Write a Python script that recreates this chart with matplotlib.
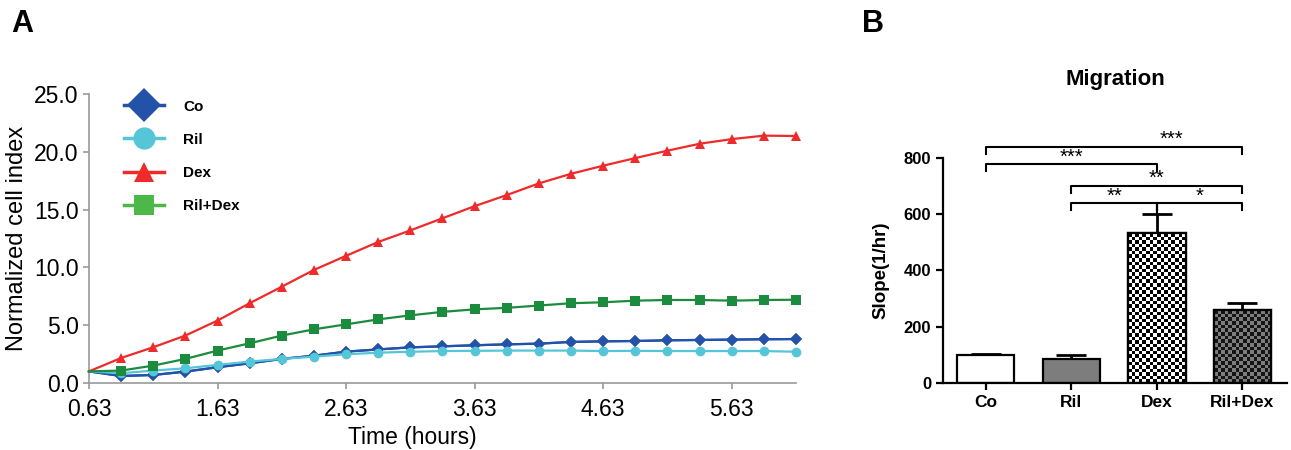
import numpy as np
import matplotlib
matplotlib.use("Agg")
import matplotlib.pyplot as plt
from matplotlib.lines import Line2D
from matplotlib.colors import ListedColormap

plt.rcParams['font.family'] = ['Liberation Sans', 'DejaVu Sans']

# ---------------- Data: panel A ----------------
time_h = [0.63, 0.88, 1.13, 1.38, 1.63, 1.88, 2.13, 2.38, 2.63, 2.88, 3.13, 3.38,
          3.63, 3.88, 4.13, 4.38, 4.63, 4.88, 5.13, 5.38, 5.63, 5.88, 6.13]
co = [1.0, 0.6, 0.69, 0.98, 1.36, 1.7, 2.08, 2.36, 2.71, 2.9, 3.08, 3.17,
      3.26, 3.34, 3.4, 3.55, 3.6, 3.63, 3.69, 3.72, 3.75, 3.78, 3.8]
ril = [1.0, 0.84, 1.07, 1.27, 1.56, 1.85, 2.08, 2.28, 2.48, 2.62, 2.7, 2.76,
       2.78, 2.8, 2.8, 2.8, 2.76, 2.78, 2.76, 2.76, 2.76, 2.76, 2.7]
dex = [1.0, 2.16, 3.09, 4.1, 5.4, 6.9, 8.33, 9.78, 11.0, 12.2, 13.2, 14.25,
       15.3, 16.26, 17.27, 18.1, 18.8, 19.46, 20.1, 20.7, 21.1, 21.4, 21.37]
ril_dex = [1.0, 1.07, 1.5, 2.08, 2.8, 3.43, 4.1, 4.64, 5.07, 5.5, 5.85, 6.15,
           6.37, 6.5, 6.7, 6.9, 6.98, 7.12, 7.18, 7.18, 7.12, 7.18, 7.2]
series_labels = ['Co', 'Ril', 'Dex', 'Ril+Dex']
x_ticks = [0.63, 1.63, 2.63, 3.63, 4.63, 5.63]
y_ticks_a = [0.0, 5.0, 10.0, 15.0, 20.0, 25.0]

# ---------------- Data: panel B ----------------
groups = ['Co', 'Ril', 'Dex', 'Ril+Dex']
slope = [100, 85, 532, 258]
slope_err = [4, 15, 68, 26]
y_ticks_b = [0, 200, 400, 600, 800]
# comparisons: (i, j, height, label, label_x)
comparisons = [(0, 3, 839, '***', 2.17),
               (0, 2, 776, '***', 1.0),
               (1, 3, 700, '**', 2.0),
               (1, 2, 638, '**', 1.5),
               (2, 3, 638, '*', 2.5)]

# ---------------- Figure ----------------
fig = plt.figure(figsize=(12.91, 4.5), dpi=100)

# Panel A
axA = fig.add_axes([0.0689, 0.149, 0.5477, 0.642])
colors = ['#2352a8', '#55c5d8', '#ee2a2a', '#1b8c3e']
markers = ['D', 'o', '^', 's']
msizes = [6, 7, 7.5, 6.5]
mev = list(range(1, len(time_h)))
for vals, c, m, ms in zip([co, ril, dex, ril_dex], colors, markers, msizes):
    axA.plot(time_h, vals, color=c, marker=m, markersize=ms, linewidth=1.6,
             markeredgewidth=0, markevery=mev, clip_on=False, zorder=3)
axA.plot(time_h, co, color=colors[0], marker='D', markersize=6, linewidth=1.6,
         markeredgewidth=0, markevery=mev, clip_on=False, zorder=2.5)

axA.set_xlim(0.63, 6.13)
axA.set_ylim(0, 25)
axA.set_xticks(x_ticks)
axA.set_xticklabels([f'{v:.2f}' for v in x_ticks])
axA.set_yticks(y_ticks_a)
axA.set_yticklabels([f'{v:.1f}' for v in y_ticks_a])
for s in ['top', 'right']:
    axA.spines[s].set_visible(False)
for s in ['left', 'bottom']:
    axA.spines[s].set_color('#9a9a9a')
    axA.spines[s].set_linewidth(1.2)
axA.tick_params(axis='both', colors='#9a9a9a', labelcolor='black', labelsize=16.5,
                length=4, width=1.2)
axA.tick_params(axis='x', pad=7)
axA.set_xlabel('Time (hours)', fontsize=16.5, labelpad=2)
axA.xaxis.set_label_coords(0.458, -0.15)
axA.set_ylabel('Normalized cell index', fontsize=17, labelpad=4)

legend_colors = ['#2352a8', '#55c5d8', '#ee2a2a', '#4db848']
leg_ms = [17, 16, 15, 14]
handles = [Line2D([0], [0], color=c, marker=m, markersize=ms, linewidth=2.5,
                  markeredgewidth=0)
           for c, m, ms in zip(legend_colors, markers, leg_ms)]
leg = axA.legend(handles, series_labels, loc='upper left', bbox_to_anchor=(0.03, 1.028),
                 frameon=False, handlelength=2.6, labelspacing=1.25, handletextpad=1.3,
                 prop={'family': ['Liberation Sans Narrow', 'Liberation Sans'],
                       'weight': 'bold', 'size': 11})

fig.text(0.009, 0.93, 'A', fontsize=22, fontweight='bold')

# Panel B
axB = fig.add_axes([0.7304, 0.149, 0.2665, 0.5006])
xpos = np.arange(len(groups))
face = ['white', '#7d7d7d', 'white', '#7d7d7d']
bars = axB.bar(xpos, slope, width=0.67, color=face, edgecolor='black', linewidth=1.6,
               zorder=2)
axB.errorbar(xpos, slope, yerr=[[0] * len(slope), slope_err], fmt='none', ecolor='black',
             elinewidth=2, capsize=11, capthick=2, zorder=1)
axB.set_xlim(-0.5, 3.52)
axB.set_ylim(0, 800)
fig.canvas.draw()
# checkerboard textures for Dex and Ril+Dex
checker_cols = {2: ('white', 'black'), 3: ('#7d7d7d', '#151515')}
cell_px = 3.6
for idx, (c1, c2) in checker_cols.items():
    b = bars[idx]
    x0, w, h = b.get_x(), b.get_width(), b.get_height()
    p0 = axB.transData.transform((x0, 0))
    p1 = axB.transData.transform((x0 + w, h))
    nc = max(1, int(round((p1[0] - p0[0]) / cell_px)))
    nr = max(1, int(round((p1[1] - p0[1]) / cell_px)))
    grid = (np.add.outer(np.arange(nr), np.arange(nc)) % 2).astype(float)
    im = axB.imshow(grid, extent=[x0, x0 + w, 0, h], aspect='auto',
                    interpolation='nearest', cmap=ListedColormap([c1, c2]),
                    origin='lower', zorder=2.1)
    im.set_clip_path(b)
    axB.bar([xpos[idx]], [h], width=0.67, color='none', edgecolor='black',
            linewidth=1.6, zorder=2.2)
axB.set_xlim(-0.5, 3.52)
axB.set_ylim(0, 800)

tip = 25
for i, j, hgt, lab, lx in comparisons:
    axB.plot([i, i, j, j], [hgt - tip, hgt, hgt, hgt - tip], color='black', lw=1.5,
             clip_on=False, zorder=3)
    axB.text(lx, hgt - 8, lab, ha='center', va='bottom', fontsize=14.5, clip_on=False)
axB.plot([2, 2], [638, slope[2] + slope_err[2]], color='black', lw=1.5, clip_on=False)

axB.set_xticks(xpos)
axB.set_xticklabels(groups, fontweight='bold', fontsize=12.5)
axB.set_yticks(y_ticks_b)
for t in axB.get_yticklabels():
    t.set_fontweight('bold')
    t.set_fontsize(12)
for s in ['top', 'right']:
    axB.spines[s].set_visible(False)
for s in ['left', 'bottom']:
    axB.spines[s].set_linewidth(1.6)
axB.tick_params(axis='y', length=5, width=1.6)
axB.tick_params(axis='x', length=5, width=1.6)
axB.set_ylabel('Slope(1/hr)', fontweight='bold', fontsize=13.5, labelpad=10)
fig.text(0.864, 0.81, 'Migration', fontsize=16, fontweight='bold', ha='center')

fig.text(0.668, 0.93, 'B', fontsize=22, fontweight='bold')

fig.savefig('out.png', dpi=100)
